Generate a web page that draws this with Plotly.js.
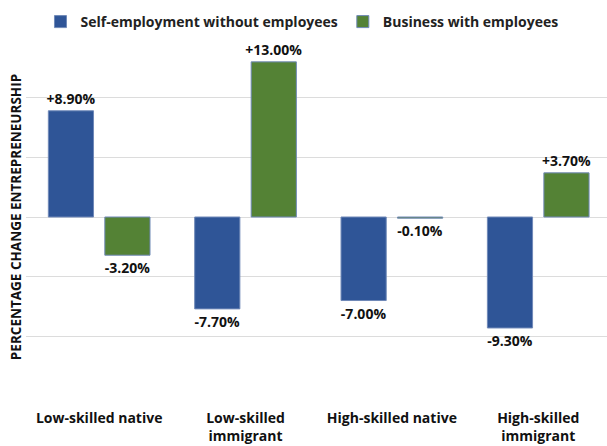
<!DOCTYPE html>
<html>
<head>
<meta charset="utf-8">
<script src="https://cdn.plot.ly/plotly-3.0.1.min.js"></script>
<style>html,body{margin:0;padding:0;background:#fff;}#chart{width:607px;height:446px;}</style>
</head>
<body>
<div id="chart"></div>
<script>
const categories = ["Low-skilled native", "Low-skilled<br>immigrant", "High-skilled native", "High-skilled<br>immigrant"];
const seriesNames = ["Self-employment without employees", "Business with employees"];
const selfEmployment = [8.9, -7.7, -7.0, -9.3];
const business = [-3.2, 13.0, -0.1, 3.7];
const colors = ["#2F5597", "#548235"];

const fmt = v => (v > 0 ? "+" : "") + v.toFixed(2) + "%";
const FONT = "Open Sans, Noto Sans, sans-serif";

function makeTrace(name, vals, color) {
  return {
    type: "bar",
    name: name,
    x: [0, 1, 2, 3],
    y: vals,
    text: vals.map(fmt),
    textposition: "outside",
    constraintext: "none",
    cliponaxis: false,
    textfont: {family: FONT, size: 14, color: "#111", weight: "bold"},
    marker: {color: color, line: {color: "#7089B8", width: 1}},
    hoverinfo: "skip"
  };
}

const data = [
  makeTrace(seriesNames[0], selfEmployment, colors[0]),
  makeTrace(seriesNames[1], business, colors[1])
];

const layout = {
  width: 607, height: 446,
  margin: {l: 26, r: 0, t: 38, b: 50},
  paper_bgcolor: "#fff", plot_bgcolor: "#fff",
  barmode: "group", bargap: 0.228, bargroupgap: 0.2,
  showlegend: true,
  legend: {orientation: "h", x: 0.475, xanchor: "center", y: 1.0, yanchor: "bottom",
           font: {family: FONT, size: 14, color: "#222", weight: "bold"}, itemwidth: 30,
           traceorder: "normal"},
  xaxis: {
    range: [-0.5, 3.47], tickmode: "array", tickvals: [0, 1, 2, 3], ticktext: categories,
    showgrid: false, zeroline: false, showline: false,
    ticks: "outside", ticklen: 9, tickcolor: "rgba(0,0,0,0)",
    tickfont: {family: FONT, size: 14, color: "#111", weight: "bold"}
  },
  yaxis: {
    range: [-15, 15], dtick: 5, tick0: 0, showticklabels: false,
    showgrid: true, gridcolor: "#DCDCDC", gridwidth: 1,
    zeroline: true, zerolinecolor: "#DCDCDC", zerolinewidth: 1, showline: false,
    title: {text: "PERCENTAGE CHANGE ENTREPRENEURSHIP", standoff: 0,
            font: {family: FONT, size: 13.5, color: "#111", weight: "bold"}}
  }
};

Plotly.newPlot("chart", data, layout, {displayModeBar: false, staticPlot: true});
</script>
</body>
</html>
